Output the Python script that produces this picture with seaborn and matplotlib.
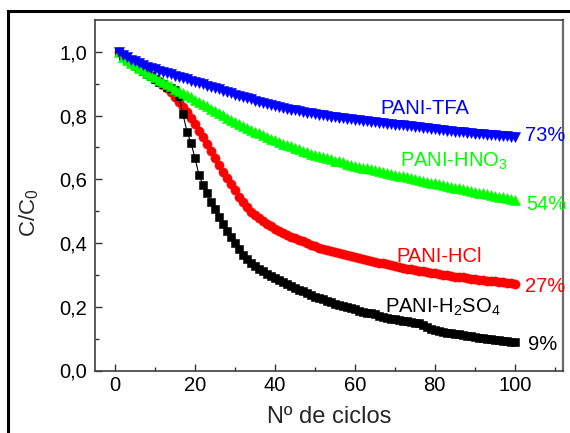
import matplotlib
matplotlib.use("Agg")
import matplotlib.pyplot as plt
from matplotlib.lines import Line2D
import seaborn as sns

# Number of cycles
cycles = list(range(1, 101))

# Normalised concentration C/C0 per cycle for each polyaniline doping
tfa = [
    1.000, 0.991, 0.983, 0.976, 0.970, 0.964, 0.959, 0.954, 0.949, 0.945,
    0.941, 0.937, 0.933, 0.929, 0.925, 0.921, 0.918, 0.914, 0.910, 0.906,
    0.902, 0.898, 0.894, 0.890, 0.886, 0.882, 0.878, 0.874, 0.870, 0.866,
    0.862, 0.858, 0.854, 0.851, 0.847, 0.844, 0.840, 0.837, 0.834, 0.831,
    0.828, 0.825, 0.822, 0.819, 0.816, 0.813, 0.811, 0.809, 0.807, 0.805,
    0.803, 0.801, 0.799, 0.797, 0.795, 0.793, 0.792, 0.790, 0.788, 0.787,
    0.785, 0.784, 0.782, 0.781, 0.779, 0.778, 0.776, 0.775, 0.773, 0.772,
    0.771, 0.769, 0.768, 0.766, 0.765, 0.763, 0.762, 0.761, 0.759, 0.758,
    0.756, 0.755, 0.753, 0.752, 0.750, 0.749, 0.747, 0.746, 0.745, 0.743,
    0.742, 0.741, 0.740, 0.739, 0.738, 0.737, 0.736, 0.735, 0.734, 0.733,
]

hno3 = [
    1.000, 0.985, 0.975, 0.966, 0.958, 0.950, 0.942, 0.935, 0.927, 0.920,
    0.913, 0.906, 0.899, 0.892, 0.885, 0.878, 0.871, 0.864, 0.857, 0.850,
    0.843, 0.836, 0.829, 0.822, 0.815, 0.808, 0.801, 0.794, 0.787, 0.780,
    0.774, 0.768, 0.762, 0.756, 0.750, 0.744, 0.739, 0.733, 0.728, 0.722,
    0.717, 0.712, 0.707, 0.703, 0.698, 0.694, 0.689, 0.685, 0.681, 0.677,
    0.673, 0.670, 0.666, 0.663, 0.659, 0.656, 0.653, 0.649, 0.646, 0.643,
    0.640, 0.637, 0.634, 0.631, 0.628, 0.625, 0.622, 0.620, 0.617, 0.614,
    0.611, 0.609, 0.606, 0.603, 0.601, 0.598, 0.595, 0.593, 0.590, 0.587,
    0.584, 0.582, 0.579, 0.577, 0.574, 0.572, 0.569, 0.566, 0.564, 0.561,
    0.558, 0.556, 0.553, 0.550, 0.548, 0.545, 0.543, 0.540, 0.538, 0.535,
]

hcl = [
    1.000, 0.985, 0.975, 0.966, 0.957, 0.948, 0.940, 0.932, 0.924, 0.916,
    0.907, 0.897, 0.886, 0.873, 0.858, 0.843, 0.827, 0.810, 0.792, 0.773,
    0.753, 0.733, 0.712, 0.690, 0.668, 0.646, 0.624, 0.603, 0.584, 0.565,
    0.545, 0.528, 0.512, 0.499, 0.488, 0.478, 0.469, 0.460, 0.452, 0.445,
    0.438, 0.432, 0.426, 0.420, 0.415, 0.410, 0.405, 0.400, 0.395, 0.390,
    0.386, 0.382, 0.378, 0.375, 0.371, 0.368, 0.365, 0.362, 0.359, 0.356,
    0.353, 0.350, 0.347, 0.344, 0.341, 0.338, 0.336, 0.333, 0.330, 0.328,
    0.325, 0.323, 0.320, 0.318, 0.316, 0.313, 0.311, 0.309, 0.307, 0.305,
    0.303, 0.301, 0.299, 0.297, 0.295, 0.293, 0.292, 0.290, 0.288, 0.287,
    0.285, 0.284, 0.282, 0.281, 0.280, 0.278, 0.277, 0.276, 0.274, 0.272,
]

h2so4 = [
    1.000, 0.986, 0.976, 0.967, 0.958, 0.949, 0.940, 0.931, 0.923, 0.915,
    0.906, 0.898, 0.891, 0.886, 0.880, 0.860, 0.805, 0.750, 0.714, 0.668,
    0.614, 0.583, 0.556, 0.530, 0.506, 0.483, 0.460, 0.438, 0.418, 0.399,
    0.381, 0.364, 0.349, 0.338, 0.328, 0.319, 0.311, 0.303, 0.296, 0.290,
    0.284, 0.278, 0.272, 0.266, 0.260, 0.254, 0.248, 0.243, 0.238, 0.232,
    0.228, 0.223, 0.219, 0.215, 0.210, 0.206, 0.202, 0.198, 0.195, 0.192,
    0.188, 0.185, 0.182, 0.179, 0.176, 0.172, 0.169, 0.166, 0.163, 0.161,
    0.159, 0.156, 0.154, 0.152, 0.150, 0.148, 0.142, 0.135, 0.131, 0.128,
    0.125, 0.122, 0.119, 0.117, 0.115, 0.113, 0.111, 0.109, 0.107, 0.105,
    0.103, 0.102, 0.100, 0.099, 0.097, 0.096, 0.094, 0.093, 0.091, 0.090,
]

xticks = [0, 20, 40, 60, 80, 100]
yticks = [0.0, 0.2, 0.4, 0.6, 0.8, 1.0]
ytick_labels = ["0,0", "0,2", "0,4", "0,6", "0,8", "1,0"]

sns.set_style("ticks")
plt.rcParams["font.family"] = ["Liberation Sans", "DejaVu Sans"]
plt.rcParams["mathtext.default"] = "regular"

fig = plt.figure(figsize=(5.70, 4.33), dpi=100)
ax = fig.add_axes([95 / 570, 1 - 370.5 / 433, (562.7 - 95) / 570, (370.5 - 20) / 433])

# series: values, colour, marker, marker size, draw order
series = [
    (hcl, "#ff0000", "o", 6.6, 2),
    (h2so4, "#000000", "s", 5.2, 3),
    (hno3, "#00ff00", "^", 7.2, 4),
    (tfa, "#0000ff", "v", 7.2, 5),
]
for vals, col, mk, ms, z in series:
    sns.lineplot(x=cycles, y=vals, ax=ax, color=col, marker=mk, markersize=ms,
                 markeredgecolor=col, markeredgewidth=0.4, linewidth=0.8,
                 zorder=z, legend=False)

ax.set_xlim(-5, 112)
ax.set_ylim(0, 1.1)
ax.set_xticks(xticks)
ax.set_xticks(range(10, 111, 20), minor=True)
ax.set_yticks(yticks)
ax.set_yticklabels(ytick_labels)
ax.set_yticks([0.1, 0.3, 0.5, 0.7, 0.9], minor=True)
ax.tick_params(axis="both", which="both", direction="in", colors="#333333",
               labelcolor="black", labelsize=14.5, top=False, right=False)
ax.tick_params(axis="both", which="major", length=5, width=1.0)
ax.tick_params(axis="both", which="minor", length=3, width=1.0)
ax.tick_params(axis="y", pad=5.5)
ax.tick_params(axis="x", pad=4)

for side in ["left", "bottom", "top"]:
    ax.spines[side].set_color("#404040")
    ax.spines[side].set_linewidth(1.2)
ax.spines["right"].set_color("#6a6a6a")
ax.spines["right"].set_linewidth(1.6)

ax.set_xlabel("Nº de ciclos", fontsize=17)
ax.set_ylabel("C/C$_0$", fontsize=16)
ax.xaxis.set_label_coords(0.5, -0.1)
ax.yaxis.set_label_coords(-0.115, 0.45)

labels = [
    (66.3, 0.806, "PANI-TFA", "#0000ff"),
    (102.6, 0.720, "73%", "#0000ff"),
    (71.3, 0.640, "PANI-HNO$_3$", "#00ff00"),
    (103.0, 0.503, "54%", "#00ff00"),
    (70.5, 0.342, "PANI-HCl", "#ff0000"),
    (102.6, 0.245, "27%", "#ff0000"),
    (67.5, 0.180, "PANI-H$_2$SO$_4$", "#000000"),
    (103.3, 0.064, "9%", "#000000"),
]
for x, y, s, col in labels:
    ax.text(x, y, s, color=col, fontsize=14.5, ha="left", va="baseline",
            clip_on=False, zorder=6)

# outer frame around the figure
fig.add_artist(Line2D([7.8 / 570, 7.8 / 570], [0, 1 - 11 / 433],
                      transform=fig.transFigure, color="black", linewidth=2.2,
                      solid_capstyle="projecting"))
fig.add_artist(Line2D([7.8 / 570, 1.0], [1 - 11 / 433, 1 - 11 / 433],
                      transform=fig.transFigure, color="black", linewidth=2.2,
                      solid_capstyle="projecting"))

fig.savefig("out.png", dpi=100)
